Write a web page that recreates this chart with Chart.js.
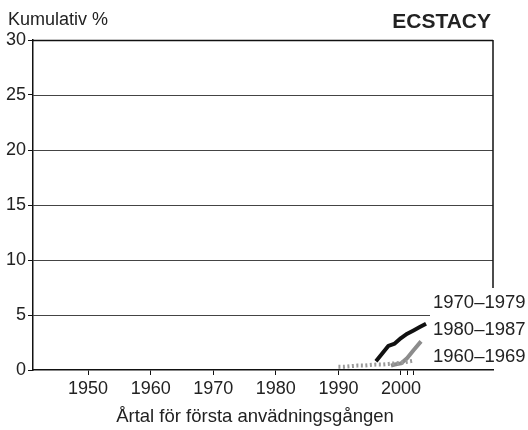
<!DOCTYPE html>
<html>
<head>
<meta charset="utf-8">
<script src="https://cdn.jsdelivr.net/npm/chart.js@4.4.1/dist/chart.umd.min.js"></script>
<style>
  html, body { margin: 0; padding: 0; background: #fff; }
</style>
</head>
<body>
<canvas id="plot_ecstacy" width="528" height="430"></canvas>
<script>
// data
const years6069 = [1990, 1991, 1992, 1993, 1994, 1995, 1996, 1997, 1998, 1999, 2000, 2001, 2002];
const vals6069  = [0.3, 0.3, 0.35, 0.4, 0.4, 0.45, 0.5, 0.5, 0.55, 0.6, 0.65, 0.75, 0.85];
const years7079 = [1996, 1997, 1998, 1999, 2000, 2001, 2002, 2003, 2004];
const vals7079  = [0.8, 1.5, 2.2, 2.4, 2.9, 3.3, 3.6, 3.9, 4.2];
const years8087 = [1998.4, 1999, 2000, 2001, 2002, 2003.2];
const vals8087  = [0.4, 0.5, 0.6, 1.1, 1.8, 2.6];
const xTicks = [1950, 1960, 1970, 1980, 1990, 2000, 2001, 2002];
const yTicks = [0, 5, 10, 15, 20, 25, 30];
const seriesNames = ['1970\u20131979', '1980\u20131987', '1960\u20131969'];

function pts(xs, ys) {
    return xs.map((x, i) => ({x: x, y: ys[i]}));
}

const FONT = 'Liberation Sans, Arial, Helvetica, sans-serif';

// frame, grid lines and the text round the plot
const decor = {
    id: 'decor',
    beforeDatasetsDraw(chart) {
        const {ctx, chartArea: a, scales: {y}} = chart;
        ctx.save();
        const labelX = a.right - 60;
        yTicks.forEach(v => {
            if (v === 0) return;
            const py = Math.round(y.getPixelForValue(v)) + 0.5;
            ctx.beginPath();
            ctx.strokeStyle = v === 30 ? '#111' : '#444';
            ctx.lineWidth = v === 30 ? 1.5 : 1.2;
            ctx.moveTo(a.left, py);
            ctx.lineTo(v === 5 ? labelX - 3 : a.right, py);
            ctx.stroke();
        });
        // right border stops above the series labels
        ctx.beginPath();
        ctx.strokeStyle = '#111';
        ctx.lineWidth = 1.5;
        ctx.moveTo(a.right, a.top);
        ctx.lineTo(a.right, a.bottom - 82);
        ctx.stroke();
        ctx.restore();
    },
    afterDraw(chart) {
        const {ctx, chartArea: a} = chart;
        ctx.save();
        ctx.fillStyle = '#222';
        ctx.textBaseline = 'alphabetic';
        ctx.font = '18px ' + FONT;
        ctx.textAlign = 'left';
        ctx.fillText('Kumulativ %', 8, 25);
        ctx.font = 'bold 21px ' + FONT;
        ctx.textAlign = 'right';
        ctx.fillText('ECSTACY', 491, 28);
        ctx.font = '18.5px ' + FONT;
        ctx.textAlign = 'center';
        ctx.fillText('Årtal för första anvädningsgången', 255, 422);
        ctx.textAlign = 'left';
        ctx.textBaseline = 'middle';
        const labelX = a.right - 60;
        seriesNames.forEach((s, i) => {
            ctx.fillText(s, labelX, a.bottom - 67 + i * 27);
        });
        ctx.restore();
    }
};

window.onload = function() {
    let ctx = document.getElementById('plot_ecstacy').getContext('2d');
    let plot = new Chart(ctx, {
        type: 'scatter',
        data: {
            datasets: [{
                label: seriesNames[2],
                data: pts(years6069, vals6069),
                borderColor: '#9a9a9a',
                borderWidth: 4,
                borderDash: [2, 2.5],
                showLine: true,
                pointRadius: 0,
                tension: 0
            }, {
                label: seriesNames[1],
                data: pts(years8087, vals8087),
                borderColor: '#8c8c8c',
                borderWidth: 4,
                borderJoinStyle: 'round',
                showLine: true,
                pointRadius: 0,
                tension: 0
            }, {
                label: seriesNames[0],
                data: pts(years7079, vals7079),
                borderColor: '#111',
                borderWidth: 4,
                borderJoinStyle: 'round',
                showLine: true,
                pointRadius: 0,
                tension: 0
            }]
        },
        options: {
            responsive: false,
            animation: false,
            layout: {
                padding: {top: 40, right: 35, left: 0, bottom: 0}
            },
            plugins: {
                legend: {display: false},
                tooltip: {enabled: false}
            },
            scales: {
                x: {
                    type: 'linear',
                    min: 1941.2,
                    max: 2014.7,
                    afterBuildTicks: scale => {
                        scale.ticks = xTicks.map(v => ({value: v}));
                    },
                    afterFit: scale => { scale.height = 60; },
                    ticks: {
                        autoSkip: false,
                        maxRotation: 0,
                        padding: 3,
                        color: '#222',
                        font: {family: FONT, size: 18},
                        callback: v => (v % 10 === 0 ? String(v) : '')
                    },
                    grid: {
                        drawOnChartArea: false,
                        drawTicks: true,
                        tickLength: 5,
                        color: '#111'
                    },
                    border: {color: '#111', width: 1.5}
                },
                y: {
                    min: 0,
                    max: 30,
                    afterBuildTicks: scale => {
                        scale.ticks = yTicks.map(v => ({value: v}));
                    },
                    afterFit: scale => { scale.width = 33; },
                    ticks: {
                        padding: 2,
                        color: '#222',
                        font: {family: FONT, size: 18}
                    },
                    grid: {
                        drawOnChartArea: false,
                        drawTicks: true,
                        tickLength: 5,
                        color: '#111'
                    },
                    border: {color: '#111', width: 1.5}
                }
            }
        },
        plugins: [decor]
    });
};
</script>
</body>
</html>
